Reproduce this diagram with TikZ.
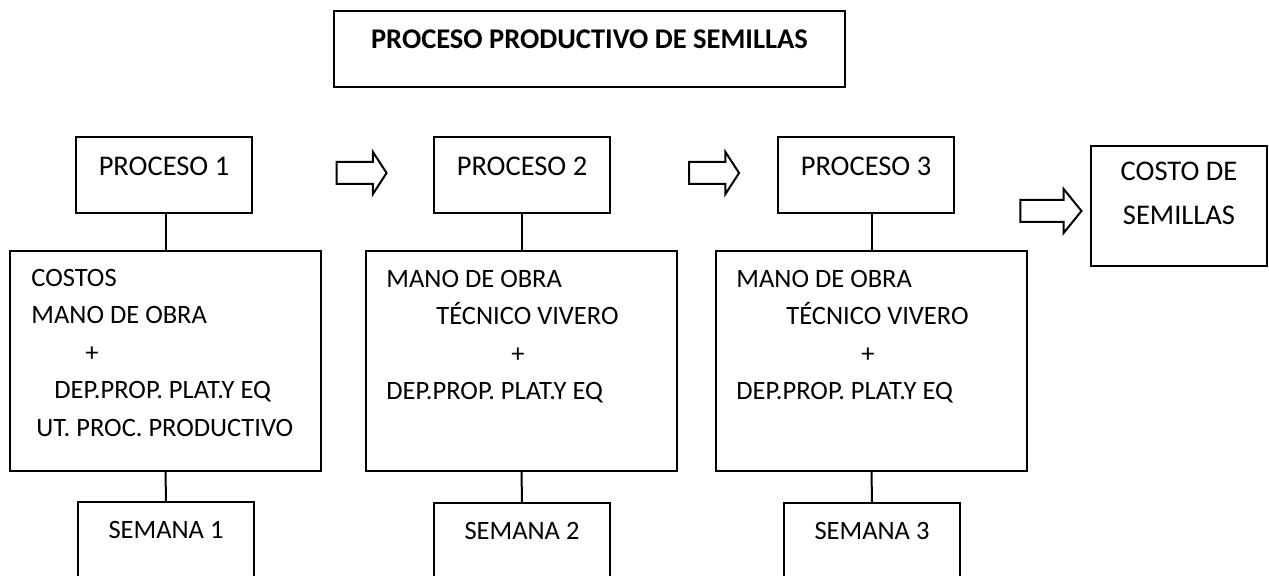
\documentclass[tikz,border=0pt]{standalone}
\usepackage{fontspec}
\setmainfont{Carlito}
\usetikzlibrary{shapes.arrows}
\tikzset{
    flow-font/.style = {font=\fontsize{14.25pt}{18.75pt}\selectfont},
    small-font/.style = {font=\fontsize{13.25pt}{18.75pt}\selectfont},
    flow-box/.style = {draw=black, fill=white, line width=1pt, rectangle, inner sep=0pt, minimum width=88pt, minimum height=38pt, flow-font},
    flow-box-title/.style = {flow-box, minimum width=255.5pt, text height=19pt, text depth=19pt, font=\fontsize{14.25pt}{18.75pt}\selectfont\bfseries},
    week-box/.style = {flow-box, small-font, text height=18.5pt, text depth=19.5pt},
    cost-box/.style = {draw=black, line width=1pt, rectangle, inner sep=0pt, minimum width=155.5pt, minimum height=110pt},
    cost-text/.style = {anchor=north west, inner sep=0pt, align=left, small-font},
    step-arrow/.style = {draw=black, fill=white, line width=1pt, single arrow, inner xsep=0pt, inner ysep=5pt, minimum height=25pt, single arrow head extend=5pt, single arrow tip angle=114},
}
\begin{document}
\begin{tikzpicture}[x=0.5pt, y=-0.5pt]
\useasboundingbox (0,0) rectangle (1269,576);
\node[flow-box-title] (title) at (589.5,49) {PROCESO PRODUCTIVO DE SEMILLAS};
\node[flow-box, text height=19.5pt, text depth=18.5pt] (p1) at (164,175) {PROCESO 1};
\node[flow-box, text height=19.5pt, text depth=18.5pt] (p2) at (522,175) {PROCESO 2};
\node[flow-box, text height=19.5pt, text depth=18.5pt] (p3) at (866,175) {PROCESO 3};
\node[flow-box, minimum height=60pt] (seeds) at (1179,206) {};
\node[anchor=north, inner sep=0pt, align=center, font=\fontsize{14.25pt}{22pt}\selectfont] (seedstext) at (seeds.center |- 0,161.5) {COSTO DE\\SEMILLAS};
\node[step-arrow] (a1) at (358,173) {};
\node[step-arrow] (a2) at (710.5,173) {};
\node[step-arrow, minimum height=30.5pt, single arrow head extend=5.5pt, single arrow tip angle=102] (a3) at (1046.5,211) {};
\node[cost-box] (c1) at (165.5,361) {};
\node[cost-box] (c2) at (521.5,361) {};
\node[cost-box] (c3) at (871.5,361) {};
\node[cost-text] (t1) at (31,268.5) {COSTOS\\MANO DE OBRA\\\hspace*{27pt}+\\\hspace*{11.5pt}DEP.PROP. PLAT.Y EQ\\\hspace*{2.5pt}UT. PROC. PRODUCTIVO};
\node[cost-text] (t2) at (386,269.5) {MANO DE OBRA\\\hspace*{25pt}TÉCNICO VIVERO\\\hspace*{62.5pt}+\\DEP.PROP. PLAT.Y EQ};
\node[cost-text] (t3) at (736,269.5) {MANO DE OBRA\\\hspace*{25pt}TÉCNICO VIVERO\\\hspace*{62.5pt}+\\DEP.PROP. PLAT.Y EQ};
\node[week-box] (s1) at (166,540) {SEMANA 1};
\node[week-box] (s2) at (522,541) {SEMANA 2};
\node[week-box] (s3) at (872,541) {SEMANA 3};
\draw[line width=1pt] (c1.north) -- (c1.north |- p1.south);
\draw[line width=1pt] (c2.north) -- (c2.north |- p2.south);
\draw[line width=1pt] (c3.north) -- (c3.north |- p3.south);
\draw[line width=1pt] (c1.south) -- (s1.north);
\draw[line width=1pt] (c2.south) -- (s2.north);
\draw[line width=1pt] (c3.south) -- (s3.north);
\end{tikzpicture}
\end{document}
